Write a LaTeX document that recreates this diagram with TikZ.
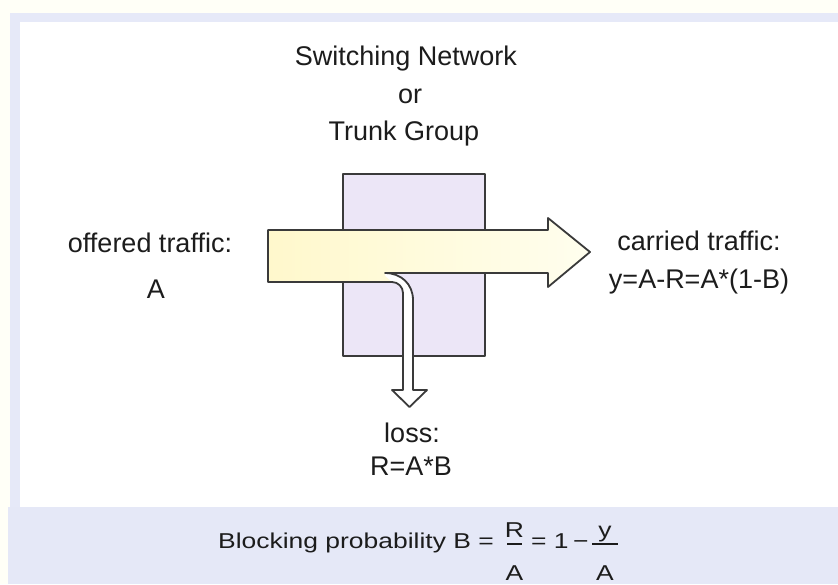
\documentclass[tikz,border=0pt]{standalone}
\usepackage{fontspec}
\usepackage{graphicx}
\setmainfont{Liberation Sans}
\definecolor{textc}{HTML}{1C1C1C}
\definecolor{linec}{HTML}{3A3A3A}
\definecolor{boxfill}{HTML}{ECE6F7}
\definecolor{bandc}{HTML}{E5E8F7}
\definecolor{stripc}{HTML}{E6E9F8}
\definecolor{yelL}{HTML}{FFF8CC}
\definecolor{yelR}{HTML}{FFFEEE}
\newcommand\widetxt[1]{\scalebox{1.23}[1]{#1}}
\begin{document}
\begin{tikzpicture}[x=1pt,y=-1pt,
  lab/.style={font=\fontsize{27}{32}\selectfont, text=textc, inner sep=0pt, anchor=base},
  frm/.style={font=\fontsize{21.5}{26}\selectfont, text=textc, inner sep=0pt, anchor=base},
  outl/.style={draw=linec, line width=1.8pt, line join=round},
  fbar/.style={draw=textc, line width=1.4pt}]
\useasboundingbox (0,0) rectangle (838,584);
% background
\fill[white!97!yellow] (0,0) rectangle (838,584);
\fill[stripc] (10,13) rectangle (838,22);
\fill[stripc] (10,13) rectangle (20,507);
\fill[white] (20,22) rectangle (838,507);
\fill[bandc] (8,507) rectangle (838,584);
% switching box
\draw[outl, fill=boxfill] (343,174) rectangle (485,356);
% arrows: fill
\path[fill=white] (268,230) -- (548,230) -- (548,218) -- (590,252) -- (548,287) -- (548,273)
  -- (385,273) .. controls (401,273) and (413,284) .. (413,300) -- (413,390) -- (427,390)
  -- (409.5,407) -- (392,390) -- (403,390) -- (403,293)
  .. controls (403,287) and (398,282) .. (392,282) -- (268,282) -- cycle;
\shade[left color=yelL, right color=yelR] (268,230) -- (548,230) -- (548,218) -- (590,252) -- (548,287) -- (548,273)
  -- (385,273) -- (385,276) -- (392,282) -- (268,282) -- cycle;
% arrows: outline
\draw[outl] (268,230) -- (548,230) -- (548,218) -- (590,252) -- (548,287) -- (548,273)
  -- (385,273) .. controls (401,273) and (413,284) .. (413,300) -- (413,390) -- (427,390)
  -- (409.5,407) -- (392,390) -- (403,390) -- (403,293)
  .. controls (403,287) and (398,282) .. (392,282) -- (268,282) -- cycle;
% labels
\node[lab] (sw) at (406,65) {Switching Network};
\node[lab] (or) at (410,103) {or};
\node[lab] (tg) at (404,140) {Trunk Group};
\node[lab] (off) at (150,252) {offered traffic:};
\node[lab] (offA) at (156,298) {A};
\node[lab] (car) at (699,250) {carried traffic:};
\node[lab] (cary) at (699,288) {y=A-R=A*(1-B)};
\node[lab] (loss) at (412,442) {loss:};
\node[lab] (lossR) at (411,475) {R=A*B};
% formula
\node[frm, anchor=base west] (blk) at (218,548) {\widetxt{Blocking probability B =}};
\node[frm] (f1n) at (514.5,537) {\widetxt{R}};
\node[frm] (f1d) at (514.5,580) {\widetxt{A}};
\coordinate (b1l) at (507,544);
\coordinate (b1r) at (522,544);
\draw[fbar] (b1l) -- (b1r);
\node[frm, anchor=base west] (eq2) at (531,548) {\widetxt{= 1\,−}};
\node[frm] (f2n) at (605,537) {\widetxt{y}};
\node[frm] (f2d) at (605,580) {\widetxt{A}};
\coordinate (b2l) at (592,544);
\coordinate (b2r) at (618,544);
\draw[fbar] (b2l) -- (b2r);
\end{tikzpicture}
\end{document}
